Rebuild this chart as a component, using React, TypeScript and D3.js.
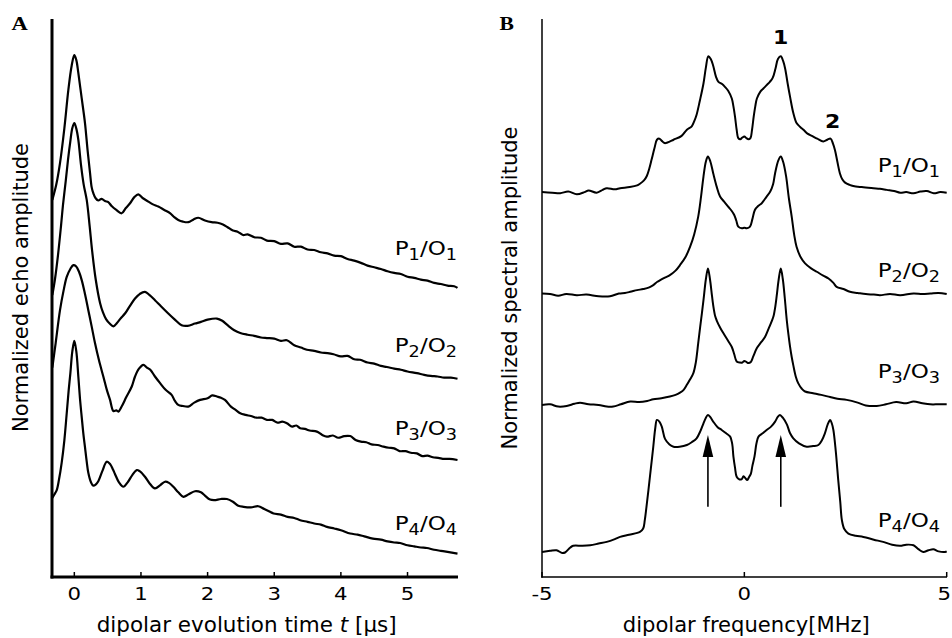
import React from 'react';
import * as d3 from 'd3';

type Pt = [number, number];

// ---------- Panel A: time traces (t in µs, amplitude in arbitrary stacked units) ----------
const TIME_TICKS = [0, 1, 2, 3, 4, 5];
const FREQ_TICKS = [-5, 0, 5];
const SERIES_NAMES = ['1', '2', '3', '4'];

const ECHO_P1: Pt[] = [
  [-0.33, 67.7], [-0.27, 70.5], [-0.215, 74.3], [-0.15, 80.5], [-0.09, 87.4], [-0.04, 91.8], [0, 93.7],
  [0.03, 92.8], [0.06, 90.5], [0.11, 86.0], [0.16, 81.5], [0.2, 76.5], [0.236, 72.5], [0.26, 70.0],
  [0.285, 68.9], [0.32, 68.0], [0.36, 67.6], [0.41, 67.9], [0.46, 67.5], [0.51, 67.3], [0.56, 66.6],
  [0.63, 65.9], [0.71, 65.3], [0.77, 66.2], [0.836, 67.1], [0.9, 68.2], [0.96, 68.7], [1.03, 68.0],
  [1.11, 67.4], [1.18, 66.9], [1.26, 66.5], [1.35, 65.9], [1.44, 65.3], [1.5, 64.6], [1.56, 64.1],
  [1.63, 63.8], [1.71, 63.7], [1.79, 64.2], [1.86, 64.5], [1.96, 64.0], [2.06, 63.7], [2.15, 63.6],
  [2.23, 63.3], [2.3, 62.8], [2.38, 62.2], [2.45, 62.0], [2.53, 61.4], [2.6, 61.5], [2.7, 61.0],
  [2.8, 60.9], [2.89, 60.4], [3.0, 60.3], [3.1, 59.8], [3.2, 59.9], [3.3, 59.3], [3.4, 59.3],
  [3.5, 58.8], [3.6, 58.7], [3.7, 58.3], [3.8, 58.1], [3.9, 57.7], [4.0, 57.6], [4.1, 57.1],
  [4.2, 56.8], [4.3, 56.4], [4.4, 55.9], [4.5, 55.6], [4.6, 55.3], [4.7, 54.9], [4.8, 54.6],
  [4.9, 54.4], [5.0, 53.9], [5.1, 53.7], [5.2, 53.4], [5.3, 53.2], [5.4, 52.8], [5.5, 52.6],
  [5.6, 52.3], [5.7, 52.2], [5.75, 51.9],
];

const ECHO_P2: Pt[] = [
  [-0.33, 50.6], [-0.29, 53.5], [-0.245, 57.8], [-0.2, 63.0], [-0.17, 66.8], [-0.13, 71.0], [-0.095, 74.9],
  [-0.06, 78.2], [-0.03, 80.6], [0, 81.5], [0.03, 80.5], [0.06, 78.5], [0.1, 74.0], [0.14, 70.5],
  [0.186, 67.7], [0.23, 63.0], [0.266, 58.7], [0.32, 53.5], [0.386, 49.2], [0.43, 47.5], [0.476, 46.3],
  [0.53, 45.5], [0.586, 45.0], [0.64, 45.6], [0.7, 46.5], [0.76, 47.3], [0.83, 48.6], [0.911, 50.0],
  [0.98, 50.8], [1.06, 51.2], [1.13, 50.6], [1.21, 49.7], [1.3, 48.6], [1.41, 47.3], [1.5, 46.3],
  [1.61, 45.2], [1.7, 45.1], [1.81, 45.5], [1.9, 45.8], [2.0, 46.2], [2.14, 46.4], [2.22, 46.0],
  [2.3, 45.2], [2.4, 44.3], [2.49, 43.8], [2.6, 43.5], [2.7, 43.3], [2.8, 43.0], [2.89, 42.9],
  [3.0, 42.8], [3.1, 42.4], [3.19, 42.5], [3.3, 41.6], [3.4, 41.2], [3.49, 40.8], [3.6, 40.6],
  [3.7, 40.3], [3.8, 40.2], [3.89, 40.0], [4.0, 39.6], [4.1, 39.7], [4.2, 39.1], [4.29, 39.0],
  [4.4, 38.5], [4.5, 38.3], [4.6, 37.9], [4.69, 37.7], [4.8, 37.4], [4.9, 37.2], [5.0, 36.9],
  [5.14, 36.6], [5.25, 36.3], [5.35, 36.1], [5.45, 36.0], [5.55, 35.8], [5.65, 35.8], [5.75, 35.6],
];

const ECHO_P3: Pt[] = [
  [-0.33, 37.6], [-0.28, 42.0], [-0.215, 47.9], [-0.16, 51.5], [-0.114, 53.9], [-0.06, 55.3], [-0.015, 56.0],
  [0.025, 55.8], [0.07, 54.8], [0.111, 53.3], [0.16, 50.8], [0.21, 47.9], [0.26, 45.0], [0.31, 42.0],
  [0.37, 38.9], [0.435, 36.0], [0.49, 33.5], [0.536, 31.8], [0.586, 29.8], [0.63, 29.9], [0.66, 29.7],
  [0.71, 30.6], [0.78, 32.3], [0.862, 34.2], [0.911, 36.0], [0.97, 37.4], [1.036, 38.1], [1.09, 37.6],
  [1.14, 37.2], [1.21, 36.0], [1.287, 34.8], [1.37, 33.6], [1.46, 32.7], [1.51, 31.6], [1.56, 30.9],
  [1.63, 30.7], [1.71, 30.6], [1.8, 31.3], [1.887, 31.8], [2.0, 32.1], [2.07, 32.6], [2.14, 32.4],
  [2.2, 32.2], [2.26, 31.8], [2.35, 30.6], [2.42, 30.0], [2.49, 29.4], [2.57, 29.1], [2.65, 28.9],
  [2.73, 28.6], [2.81, 28.6], [2.89, 28.2], [2.97, 28.2], [3.05, 27.7], [3.12, 27.9], [3.19, 27.6],
  [3.27, 27.0], [3.33, 27.2], [3.39, 26.7], [3.46, 26.6], [3.53, 26.3], [3.64, 26.1], [3.72, 25.5],
  [3.79, 25.2], [3.88, 25.4], [3.96, 25.0], [4.05, 25.3], [4.14, 25.3], [4.22, 24.6], [4.3, 24.3],
  [4.38, 24.2], [4.46, 23.8], [4.55, 23.7], [4.64, 23.4], [4.72, 23.2], [4.8, 23.1], [4.88, 22.6],
  [4.97, 22.6], [5.05, 22.3], [5.14, 22.2], [5.22, 21.7], [5.3, 21.8], [5.38, 21.5], [5.46, 21.4],
  [5.55, 21.2], [5.63, 21.2], [5.75, 21.0],
];

const ECHO_P4: Pt[] = [
  [-0.33, 14.2], [-0.3, 14.8], [-0.264, 15.6], [-0.23, 17.5], [-0.19, 20.5], [-0.15, 24.5], [-0.114, 29.4],
  [-0.085, 33.5], [-0.06, 36.5], [-0.03, 40.5], [0, 42.4], [0.03, 40.5], [0.06, 36.0], [0.085, 32.0],
  [0.111, 28.7], [0.135, 25.8], [0.16, 23.3], [0.185, 20.8], [0.21, 18.7], [0.25, 17.0], [0.285, 16.4],
  [0.32, 16.6], [0.36, 17.2], [0.42, 19.0], [0.486, 20.7], [0.536, 20.3], [0.58, 19.3], [0.61, 18.5],
  [0.67, 17.0], [0.736, 16.2], [0.8, 17.0], [0.87, 18.3], [0.937, 19.2], [0.98, 19.0], [1.06, 18.0],
  [1.13, 16.8], [1.21, 15.9], [1.29, 16.5], [1.36, 17.1], [1.42, 16.9], [1.486, 16.2], [1.56, 15.2],
  [1.637, 14.4], [1.71, 14.8], [1.81, 15.4], [1.9, 15.2], [1.96, 14.6], [2.037, 13.9], [2.1, 13.8],
  [2.2, 14.0], [2.29, 14.0], [2.38, 13.5], [2.46, 12.8], [2.54, 12.6], [2.65, 12.5], [2.76, 12.7],
  [2.85, 12.2], [2.92, 11.8], [2.99, 11.4], [3.1, 11.2], [3.2, 10.8], [3.3, 10.6], [3.39, 10.2],
  [3.5, 9.9], [3.6, 9.6], [3.7, 9.4], [3.79, 9.0], [3.9, 8.7], [4.0, 8.4], [4.14, 7.8], [4.25, 7.6],
  [4.35, 7.3], [4.48, 6.9], [4.6, 6.7], [4.7, 6.4], [4.8, 6.2], [4.89, 6.1], [5.0, 5.7], [5.1, 5.5],
  [5.2, 5.3], [5.29, 5.2], [5.4, 4.9], [5.5, 4.7], [5.6, 4.5], [5.75, 4.2],
];

// ---------- Panel B: spectra (frequency in MHz, amplitude in stacked units) ----------
const SPEC_P1: Pt[] = [
  [-5, 69.1], [-4.75, 69.0], [-4.55, 68.9], [-4.35, 69.2], [-4.14, 68.7], [-3.95, 69.1], [-3.85, 69.4],
  [-3.65, 69.0], [-3.5, 69.5], [-3.4, 69.8], [-3.2, 69.6], [-3.07, 69.8], [-2.83, 70.0], [-2.65, 70.3],
  [-2.58, 70.6], [-2.48, 71.2], [-2.41, 72.0], [-2.35, 73.3], [-2.29, 75.0], [-2.22, 77.0], [-2.16, 78.5],
  [-2.1, 78.7], [-2.04, 78.3], [-1.97, 77.9], [-1.9, 78.0], [-1.75, 78.5], [-1.55, 79.2], [-1.42, 80.3],
  [-1.3, 80.9], [-1.24, 81.8], [-1.18, 83.0], [-1.1, 85.5], [-1.01, 88.6], [-0.95, 91.5], [-0.89, 93.5],
  [-0.83, 93.0], [-0.77, 91.8], [-0.7, 89.8], [-0.64, 88.9], [-0.55, 88.5], [-0.48, 88.0], [-0.4, 87.3],
  [-0.31, 85.9], [-0.27, 84.5], [-0.23, 82.6], [-0.19, 80.3], [-0.15, 78.8], [-0.1, 78.6], [-0.05, 78.9],
  [0, 79.1], [0.05, 78.8], [0.1, 78.6], [0.15, 78.8], [0.19, 80.3], [0.23, 82.6], [0.27, 84.5],
  [0.31, 85.9], [0.4, 87.2], [0.47, 87.7], [0.55, 88.3], [0.63, 88.9], [0.7, 89.6], [0.77, 91.3],
  [0.83, 93.0], [0.9, 93.5], [0.96, 92.6], [1.01, 91.2], [1.07, 88.6], [1.13, 86.2], [1.21, 83.3],
  [1.29, 81.5], [1.38, 80.8], [1.46, 80.3], [1.56, 79.6], [1.67, 79.2], [1.8, 78.7], [1.95, 78.2],
  [2.05, 78.5], [2.13, 78.7], [2.19, 77.8], [2.24, 76.6], [2.3, 74.5], [2.36, 72.5], [2.42, 71.4],
  [2.49, 70.8], [2.6, 70.4], [2.69, 70.2], [2.9, 70.0], [3.19, 69.8], [3.35, 69.7], [3.52, 69.5],
  [3.7, 69.3], [3.85, 69.0], [4.0, 69.1], [4.18, 68.9], [4.35, 69.2], [4.51, 69.3], [4.68, 68.9],
  [4.84, 69.1], [5.0, 69.0],
];

const SPEC_P2: Pt[] = [
  [-5, 50.9], [-4.8, 50.8], [-4.6, 50.5], [-4.4, 50.8], [-4.14, 50.6], [-3.9, 50.7], [-3.6, 50.4],
  [-3.32, 50.4], [-3.1, 50.9], [-2.95, 51.0], [-2.82, 51.2], [-2.65, 51.5], [-2.5, 51.7], [-2.35, 52.0],
  [-2.25, 52.4], [-2.15, 53.0], [-2.08, 53.3], [-1.95, 53.8], [-1.84, 54.2], [-1.7, 55.0], [-1.59, 56.0],
  [-1.45, 57.5], [-1.34, 59.3], [-1.24, 61.5], [-1.14, 64.7], [-1.07, 68.3], [-1.01, 71.9], [-0.95, 74.6],
  [-0.9, 75.5], [-0.84, 74.6], [-0.77, 72.5], [-0.68, 70.0], [-0.6, 68.3], [-0.5, 67.4], [-0.4, 66.5],
  [-0.32, 65.8], [-0.25, 65.0], [-0.2, 64.0], [-0.15, 62.9], [-0.06, 62.6], [0, 62.7], [0.06, 62.6],
  [0.14, 62.9], [0.2, 64.3], [0.26, 65.9], [0.34, 66.6], [0.43, 67.1], [0.55, 68.3], [0.64, 69.2],
  [0.71, 70.5], [0.76, 72.5], [0.84, 74.8], [0.9, 75.5], [0.96, 74.5], [1.03, 72.0], [1.1, 68.0],
  [1.17, 64.7], [1.23, 61.5], [1.29, 59.3], [1.4, 57.3], [1.5, 56.3], [1.65, 55.4], [1.79, 54.8],
  [1.95, 54.1], [2.08, 53.6], [2.2, 52.8], [2.28, 52.1], [2.45, 51.7], [2.61, 51.2], [2.8, 51.0],
  [3.0, 50.8], [3.2, 50.7], [3.35, 50.6], [3.6, 50.8], [3.85, 50.6], [4.18, 50.9], [4.4, 50.8],
  [4.6, 50.9], [4.8, 51.0], [5.0, 50.8],
];

const SPEC_P3: Pt[] = [
  [-5, 30.9], [-4.8, 31.0], [-4.6, 30.6], [-4.39, 30.7], [-4.2, 31.1], [-4.06, 31.3], [-3.85, 31.0],
  [-3.6, 30.9], [-3.4, 30.6], [-3.24, 30.6], [-3.05, 31.0], [-2.82, 31.5], [-2.6, 31.4], [-2.4, 31.6],
  [-2.25, 31.9], [-2.05, 32.1], [-1.84, 32.4], [-1.7, 32.7], [-1.59, 33.1], [-1.5, 33.6], [-1.42, 34.5],
  [-1.34, 35.5], [-1.26, 36.6], [-1.2, 38.5], [-1.14, 42.0], [-1.09, 45.0], [-1.05, 47.3], [-1.01, 49.7],
  [-0.95, 53.5], [-0.9, 55.4], [-0.85, 53.5], [-0.8, 50.5], [-0.77, 48.8], [-0.72, 46.8], [-0.68, 46.0],
  [-0.6, 44.8], [-0.52, 43.8], [-0.41, 42.5], [-0.31, 41.3], [-0.25, 40.0], [-0.19, 38.7], [-0.11, 38.5],
  [-0.05, 38.5], [0, 38.8], [0.05, 38.6], [0.1, 38.4], [0.16, 38.6], [0.22, 39.6], [0.31, 41.1],
  [0.42, 42.2], [0.51, 43.1], [0.6, 44.6], [0.68, 46.0], [0.72, 46.8], [0.77, 48.8], [0.8, 50.5],
  [0.85, 53.5], [0.9, 55.4], [0.95, 53.5], [1.0, 50.0], [1.05, 46.0], [1.09, 43.5], [1.13, 41.3],
  [1.17, 39.5], [1.21, 38.0], [1.27, 36.0], [1.33, 34.8], [1.42, 33.8], [1.5, 33.3], [1.7, 33.0],
  [1.9, 32.7], [2.12, 32.3], [2.3, 32.0], [2.53, 31.8], [2.8, 31.3], [3.0, 30.8], [3.27, 30.7],
  [3.5, 31.0], [3.75, 31.4], [4.0, 31.2], [4.18, 31.5], [4.4, 31.2], [4.59, 31.0], [4.8, 31.0],
  [5.0, 31.0],
];

const SPEC_P4: Pt[] = [
  [-5, 4.5], [-4.8, 4.7], [-4.64, 4.8], [-4.5, 4.3], [-4.43, 4.4], [-4.3, 5.3], [-4.23, 5.6], [-4.0, 5.6],
  [-3.81, 5.7], [-3.6, 6.0], [-3.4, 6.3], [-3.2, 6.8], [-3.07, 7.2], [-2.85, 7.6], [-2.58, 8.1],
  [-2.5, 8.7], [-2.46, 10.2], [-2.42, 12.5], [-2.37, 15.6], [-2.31, 19.5], [-2.25, 23.4], [-2.2, 26.8],
  [-2.16, 28.2], [-2.1, 27.9], [-2.04, 27.0], [-1.96, 24.8], [-1.85, 23.8], [-1.75, 23.4], [-1.6, 23.4],
  [-1.42, 23.7], [-1.3, 24.2], [-1.18, 24.9], [-1.08, 26.3], [-1.01, 27.6], [-0.95, 28.6], [-0.9, 29.1],
  [-0.84, 28.7], [-0.77, 27.9], [-0.66, 26.9], [-0.56, 26.4], [-0.45, 25.8], [-0.35, 25.2], [-0.3, 23.9],
  [-0.27, 21.6], [-0.23, 19.6], [-0.19, 18.0], [-0.12, 17.5], [-0.06, 17.6], [-0.02, 18.1], [0.03, 17.7],
  [0.07, 17.4], [0.12, 18.0], [0.16, 18.5], [0.2, 20.0], [0.25, 21.6], [0.3, 24.0], [0.35, 25.2],
  [0.45, 25.8], [0.55, 26.4], [0.66, 27.0], [0.76, 27.9], [0.83, 28.8], [0.88, 29.1], [0.95, 28.6],
  [1.05, 27.4], [1.13, 25.8], [1.21, 24.9], [1.35, 24.0], [1.54, 23.4], [1.7, 23.5], [1.83, 23.7],
  [1.92, 24.6], [1.99, 25.8], [2.06, 27.4], [2.12, 28.2], [2.16, 27.6], [2.2, 26.4], [2.26, 22.5],
  [2.32, 17.4], [2.37, 13.5], [2.41, 10.2], [2.47, 8.6], [2.57, 7.8], [2.75, 7.4], [2.94, 7.2],
  [3.2, 6.7], [3.43, 6.3], [3.65, 5.8], [3.85, 5.6], [4.0, 5.8], [4.18, 5.7], [4.3, 5.0], [4.42, 4.5],
  [4.55, 4.8], [4.67, 5.0], [4.8, 4.6], [4.96, 4.5], [5.0, 4.6],
];

const ECHO_SERIES = [ECHO_P1, ECHO_P2, ECHO_P3, ECHO_P4];
const SPEC_SERIES = [SPEC_P1, SPEC_P2, SPEC_P3, SPEC_P4];

// arrows in panel B (frequency, from/to amplitude)
const ARROW_FREQS = [-0.9, 0.9];
const ARROW_FROM = 12.6;
const ARROW_TO = 25.5;

// bold peak annotations in panel B
const PEAK_LABELS = ['1', '2'];
const PEAK_FREQS = [0.9, 2.18];
const PEAK_AMPS = [95.7, 80.6];

// ---------- layout ----------
const W = 952;
const H = 638;
const FONT = "'DejaVu Sans', Verdana, sans-serif";

const xA = d3.scaleLinear().domain([-0.335, 5.75]).range([52, 457.5]);
const xB = d3.scaleLinear().domain([-5, 5]).range([542, 946.7]);
const yS = d3.scaleLinear().domain([0, 100]).range([577, 20]);

const lineA = d3
  .line<Pt>()
  .x((d) => xA(d[0]))
  .y((d) => yS(d[1]))
  .curve(d3.curveCatmullRom.alpha(0.5));
const lineB = d3
  .line<Pt>()
  .x((d) => xB(d[0]))
  .y((d) => yS(d[1]))
  .curve(d3.curveCatmullRom.alpha(0.5));

const LABEL_A_Y = [255, 352, 435, 530];
const LABEL_B_Y = [172, 277, 378, 527];

function PLabel({ x, y, n }: { x: number; y: number; n: string }) {
  return (
    <g transform={`translate(${x},${y}) scale(1.18,1)`}>
      <text textAnchor="end" fontFamily={FONT} fontSize={19.5} fill="#000">
        <tspan>P</tspan>
        <tspan fontSize={15} dy={5}>{n}</tspan>
        <tspan dy={-5}>/O</tspan>
        <tspan fontSize={15} dy={5}>{n}</tspan>
      </text>
    </g>
  );
}

function Tick({ x, y, s, anchor = 'middle' }: { x: number; y: number; s: string; anchor?: string }) {
  return (
    <g transform={`translate(${x},${y}) scale(1.15,1)`}>
      <text textAnchor={anchor} fontFamily={FONT} fontSize={18.5} fill="#000">
        {s}
      </text>
    </g>
  );
}

export default function App() {
  return (
    <svg
      width={W}
      height={H}
      viewBox={`0 0 ${W} ${H}`}
      style={{ position: 'absolute', left: 0, top: 0, background: '#fff' }}
    >
      <rect x={0} y={0} width={W} height={H} fill="#fff" />

      {/* ---------------- Panel A ---------------- */}
      <g transform="translate(11.5,30) scale(1.25,1)">
        <text fontFamily="'Liberation Serif', 'Times New Roman', serif" fontWeight="bold" fontSize={18}>
          A
        </text>
      </g>
      {ECHO_SERIES.map((s, i) => (
        <path key={`ea${i}`} d={lineA(s) || ''} fill="none" stroke="#000" strokeWidth={2.2} strokeLinejoin="round" />
      ))}
      <line x1={52} x2={52} y1={19} y2={578.5} stroke="#000" strokeWidth={3} />
      <line x1={50.5} x2={458} y1={577} y2={577} stroke="#000" strokeWidth={3} />
      {TIME_TICKS.map((t) => (
        <g key={`ta${t}`}>
          <line x1={xA(t)} x2={xA(t)} y1={577} y2={572} stroke="#000" strokeWidth={1.5} />
          <Tick x={xA(t)} y={600} s={String(t)} />
        </g>
      ))}
      <text
        x={246.7}
        y={632}
        textAnchor="middle"
        fontFamily={FONT}
        fontSize={20.5}
        textLength={300}
        lengthAdjust="spacingAndGlyphs"
      >
        dipolar evolution time <tspan fontStyle="italic">t</tspan> [μs]
      </text>
      <text
        transform="translate(28,287.5) rotate(-90)"
        textAnchor="middle"
        fontFamily={FONT}
        fontSize={21}
        textLength={289}
        lengthAdjust="spacingAndGlyphs"
      >
        Normalized echo amplitude
      </text>
      {SERIES_NAMES.map((n, i) => (
        <PLabel key={`la${n}`} x={457} y={LABEL_A_Y[i]} n={n} />
      ))}

      {/* ---------------- Panel B ---------------- */}
      <g transform="translate(499.5,30) scale(1.2,1)">
        <text fontFamily="'Liberation Serif', 'Times New Roman', serif" fontWeight="bold" fontSize={18}>
          B
        </text>
      </g>
      {SPEC_SERIES.map((s, i) => (
        <path key={`sb${i}`} d={lineB(s) || ''} fill="none" stroke="#000" strokeWidth={2} strokeLinejoin="round" />
      ))}
      <line x1={542} x2={542} y1={19} y2={577.75} stroke="#000" strokeWidth={1.5} />
      <line x1={541.25} x2={947} y1={577} y2={577} stroke="#000" strokeWidth={1.5} />
      {FREQ_TICKS.map((f, i) => (
        <g key={`tb${f}`}>
          <line x1={xB(f)} x2={xB(f)} y1={577} y2={572} stroke="#000" strokeWidth={1.5} />
          {i === FREQ_TICKS.length - 1 ? (
            <Tick x={951} y={600} s={String(f)} anchor="end" />
          ) : (
            <Tick x={xB(f)} y={600} s={String(f)} />
          )}
        </g>
      ))}
      <text
        x={746.3}
        y={632}
        textAnchor="middle"
        fontFamily={FONT}
        fontSize={20.5}
        textLength={247}
        lengthAdjust="spacingAndGlyphs"
      >
        dipolar frequency[MHz]
      </text>
      <text
        transform="translate(516.5,288) rotate(-90)"
        textAnchor="middle"
        fontFamily={FONT}
        fontSize={21}
        textLength={323}
        lengthAdjust="spacingAndGlyphs"
      >
        Normalized spectral amplitude
      </text>
      {SERIES_NAMES.map((n, i) => (
        <PLabel key={`lb${n}`} x={940} y={LABEL_B_Y[i]} n={n} />
      ))}
      {ARROW_FREQS.map((f) => {
        const x = xB(f);
        const tip = yS(ARROW_TO);
        const base = yS(ARROW_FROM);
        return (
          <g key={`ar${f}`}>
            <line x1={x} x2={x} y1={base} y2={tip + 18} stroke="#000" strokeWidth={1.6} />
            <path d={`M${x},${tip} L${x - 5.3},${tip + 22} L${x + 5.3},${tip + 22} Z`} fill="#000" />
          </g>
        );
      })}
      {PEAK_LABELS.map((l, i) => (
        <g key={`pk${l}`} transform={`translate(${xB(PEAK_FREQS[i])},${yS(PEAK_AMPS[i])}) scale(1.1,1)`}>
          <text textAnchor="middle" fontFamily={FONT} fontWeight="bold" fontSize={20}>
            {l}
          </text>
        </g>
      ))}
    </svg>
  );
}
